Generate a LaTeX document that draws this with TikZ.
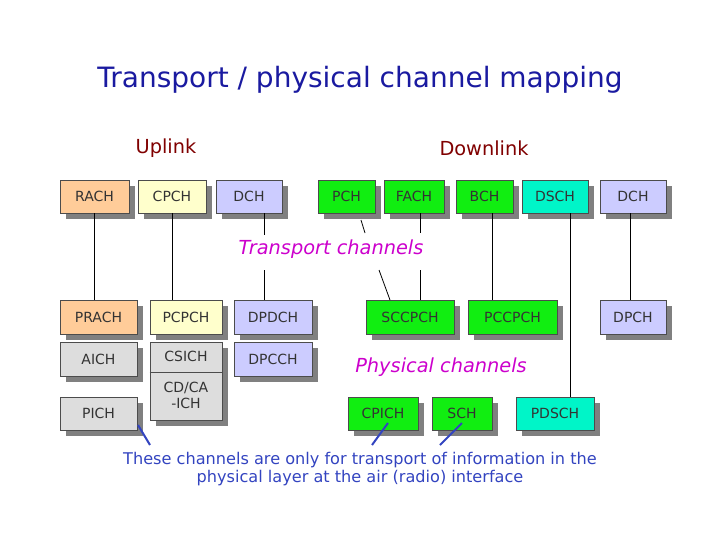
\documentclass[tikz,border=0pt]{standalone}
\usepackage{fontspec}
\setmainfont{DejaVu Sans}
\usetikzlibrary{shadows}
\definecolor{orng}{HTML}{FFCC99}
\definecolor{ylw}{HTML}{FFFFCC}
\definecolor{lav}{HTML}{CCCCFF}
\definecolor{grn}{HTML}{11EE11}
\definecolor{cyn}{HTML}{00F5C8}
\definecolor{gry}{HTML}{DDDDDD}
\definecolor{ttl}{HTML}{1A1AA0}
\definecolor{upl}{HTML}{800000}
\definecolor{mag}{HTML}{CC00CC}
\definecolor{blu}{HTML}{3344C0}
\begin{document}
\begin{tikzpicture}[x=0.75pt,y=-0.75pt,
  box/.style={draw=black!70,line width=0.6pt,inner sep=0pt,text=black!80,font=\fontsize{10.5}{12}\selectfont,
    drop shadow={shadow xshift=4.5pt,shadow yshift=-4.5pt,fill=black!50,opacity=1}},
  wh/.style 2 args={minimum width=#1*0.75pt,minimum height=#2*0.75pt},
  conn/.style={draw=black,line width=0.6pt},
  note/.style={draw=blu,line width=1.5pt},
  lbl/.style={text=mag,font=\itshape\fontsize{14.5}{17}\selectfont}]
\useasboundingbox (0,0) rectangle (720,540);
\node[text=ttl,font=\fontsize{21}{24}\selectfont] (title) at (360,80) {Transport / physical channel mapping};
\node[text=upl,font=\fontsize{14.5}{17}\selectfont] (up) at (166,148) {Uplink};
\node[text=upl,font=\fontsize{14.5}{17}\selectfont] (down) at (484,148) {Downlink};
% transport channels
\node[box,fill=orng,wh={69}{33}] (rach) at (94.5,196.5) {RACH};
\node[box,fill=ylw,wh={68}{33}] (cpch) at (172,196.5) {CPCH};
\node[box,fill=lav,wh={66}{33}] (dch1) at (249,196.5) {DCH};
\node[box,fill=grn,wh={57}{33}] (pch) at (346.5,196.5) {PCH};
\node[box,fill=grn,wh={60}{33}] (fach) at (414,196.5) {FACH};
\node[box,fill=grn,wh={57}{33}] (bch) at (484.5,196.5) {BCH};
\node[box,fill=cyn,wh={66}{33}] (dsch) at (555,196.5) {DSCH};
\node[box,fill=lav,wh={66}{33}] (dch2) at (633,196.5) {DCH};
% physical channels
\node[box,fill=orng,wh={77}{34}] (prach) at (98.5,317) {PRACH};
\node[box,fill=ylw,wh={72}{34}] (pcpch) at (186,317) {PCPCH};
\node[box,fill=lav,wh={78}{34}] (dpdch) at (273,317) {DPDCH};
\node[box,fill=grn,wh={88}{34}] (sccpch) at (410,317) {SCCPCH};
\node[box,fill=grn,wh={89}{34}] (pccpch) at (512.5,317) {PCCPCH};
\node[box,fill=lav,wh={66}{34}] (dpch) at (633,317) {DPCH};
\node[box,fill=gry,wh={77}{34}] (aich) at (98.5,359) {AICH};
\node[box,fill=gry,wh={72}{78},anchor=north] (csich) at (186,342) {};
\draw[draw=black!70,line width=0.6pt] (csich.west |- 0,372) -- (csich.east |- 0,372);
\node[text=black!80,font=\fontsize{10.5}{12}\selectfont] (csicht) at (186,356) {CSICH};
\node[text=black!80,font=\fontsize{10.5}{12}\selectfont,align=center] (cdca) at (186,395) {CD/CA\\-ICH};
\node[box,fill=lav,wh={78}{34}] (dpcch) at (273,359) {DPCCH};
\node[box,fill=gry,wh={77}{33}] (pich) at (98.5,413.5) {PICH};
\node[box,fill=grn,wh={70}{33}] (cpich) at (383,413.5) {CPICH};
\node[box,fill=grn,wh={60}{33}] (sch) at (462,413.5) {SCH};
\node[box,fill=cyn,wh={78}{33}] (pdsch) at (555,413.5) {PDSCH};
% labels
\node[lbl] (tc) at (331,249) {Transport channels};
\node[lbl] (pc) at (441,367) {Physical channels};
\node[text=blu,font=\fontsize{12.1}{14}\selectfont,align=center] (nt) at (360,469) {These channels are only for transport of information in the\\physical layer at the air (radio) interface};
% connectors
\draw[conn] (rach.south) -- (rach.south |- prach.north);
\draw[conn] (cpch.south) -- (cpch.south |- pcpch.north);
\coordinate (d1a) at (264,235); \coordinate (d1b) at (264,270);
\draw[conn] (dch1.south -| d1a) -- (d1a);
\draw[conn] (d1b) -- (d1b |- dpdch.north);
\coordinate (p1) at (361,220); \coordinate (p2) at (365,233);
\coordinate (p3) at (379,270); \coordinate (p4) at (390,300);
\draw[conn] (p1) -- (p2);
\draw[conn] (p3) -- (p4);
\coordinate (f1) at (420,233); \coordinate (f2) at (420,270);
\draw[conn] (fach.south -| f1) -- (f1);
\draw[conn] (f2) -- (f2 |- sccpch.north);
\draw[conn] (bch.south -| 492,0) -- (492,0 |- pccpch.north);
\draw[conn] (dsch.south -| 570,0) -- (570,0 |- pdsch.north);
\draw[conn] (dch2.south -| 630,0) -- (630,0 |- dpch.north);
% notes
\coordinate (n1) at (150,445); \coordinate (n2) at (372,445); \coordinate (n3) at (440,445);
\draw[note] (138,425) -- (n1);
\draw[note] (388,423) -- (n2);
\draw[note] (462,423) -- (n3);
\end{tikzpicture}
\end{document}
